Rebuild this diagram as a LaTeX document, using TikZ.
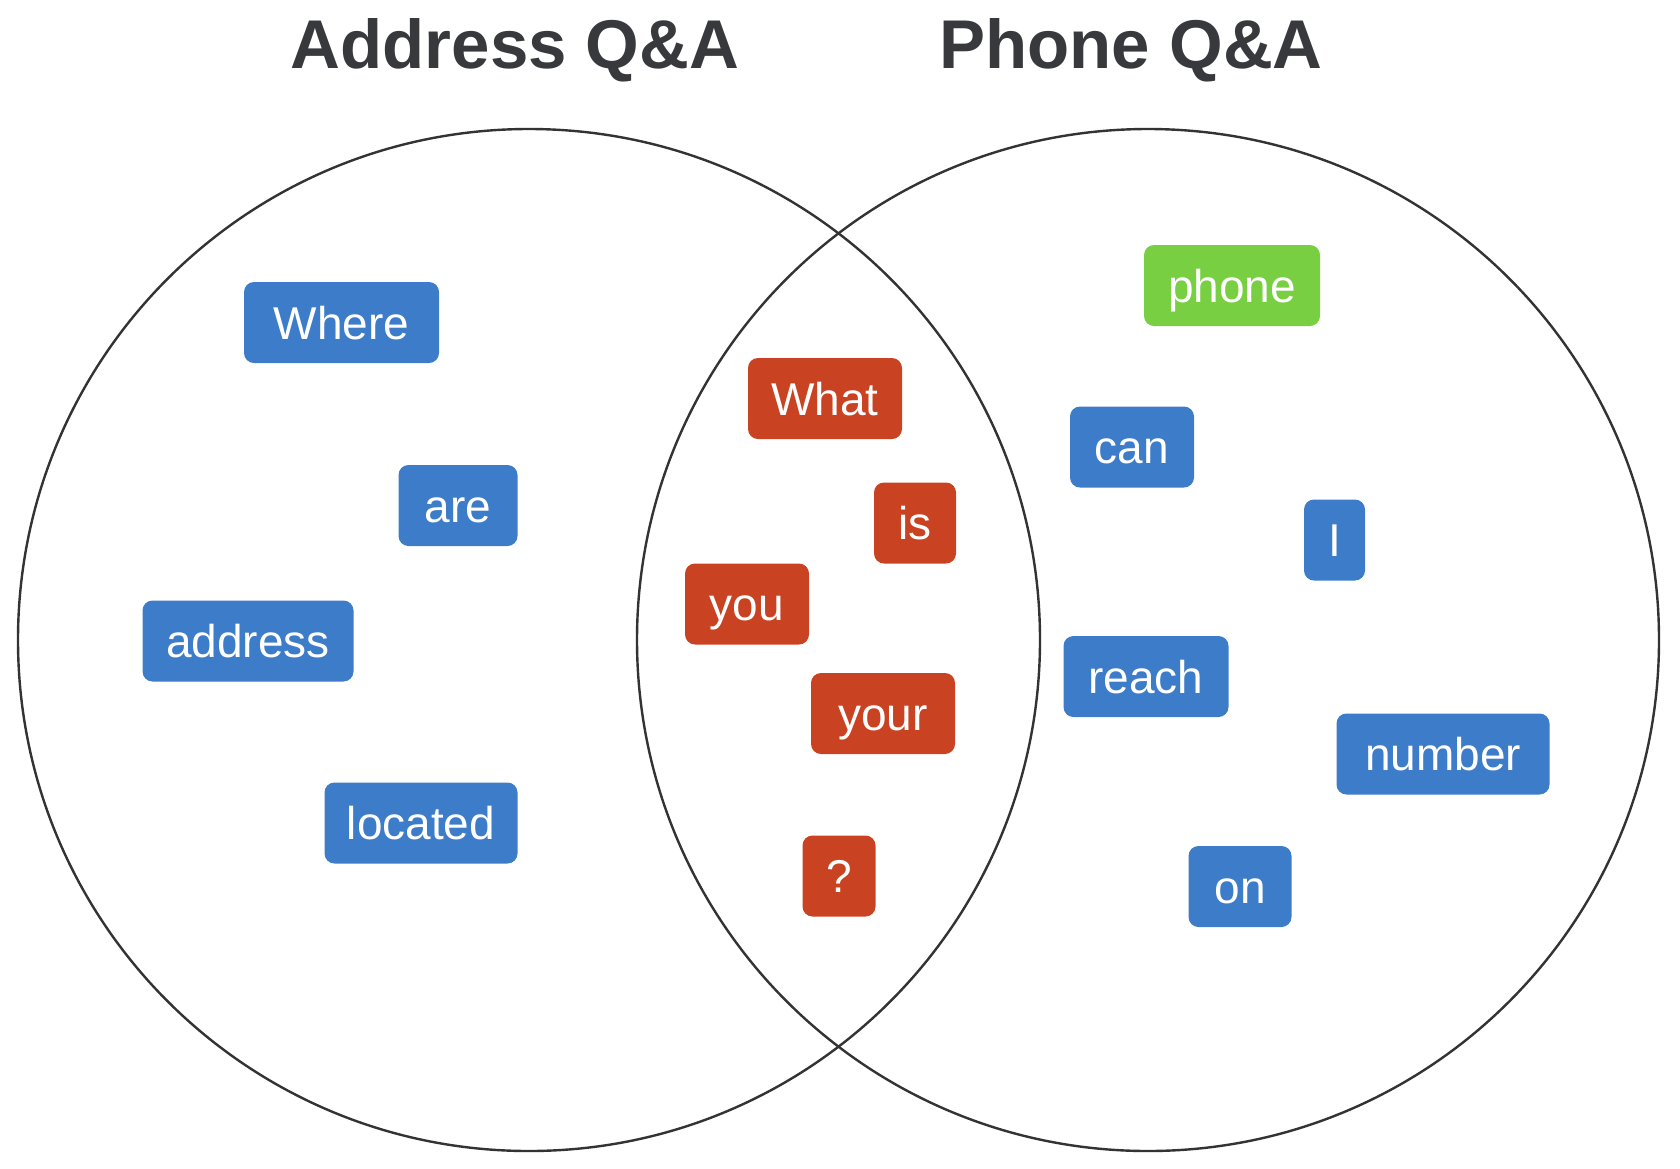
\documentclass[tikz,border=0pt]{standalone}
\usepackage{fontspec}
\setmainfont{Liberation Sans}
\definecolor{wordblue}{HTML}{3D7CC9}
\definecolor{wordred}{HTML}{C94322}
\definecolor{wordgreen}{HTML}{78CF42}
\definecolor{titlegray}{HTML}{38393D}
\begin{document}
\begin{tikzpicture}[x=0.5pt,y=-0.5pt,
    word/.style={rectangle,rounded corners=5pt,text=white,
      font=\fontsize{23}{23}\selectfont,inner xsep=8pt,inner ysep=0pt,
      minimum height=40.5pt,text height=16.5pt,text depth=0pt},
    blueword/.style={word,fill=wordblue},
    redword/.style={word,fill=wordred},
    greenword/.style={word,fill=wordgreen},
    heading/.style={anchor=base,text=titlegray,font=\fontsize{34.5}{34.5}\selectfont\bfseries},
    venn/.style={draw=black!80,line width=1.2pt}]
    \useasboundingbox (0,0) rectangle (1680,1168);

    % 标题
    \node[heading] (addrtitle) at (515,68) {Address Q\&A};
    \node[heading] (phonetitle) at (1131,68) {Phone Q\&A};

    % 两个圆
    \coordinate (addrc) at (529,640);
    \coordinate (phonec) at (1148,640);
    \draw[venn] (addrc) circle[radius=511];
    \draw[venn] (phonec) circle[radius=511];

    % 左圆的词
    \node[blueword,minimum width=97.5pt] (where) at (341.5,322.5) {Where};
    \node[blueword,minimum width=59.5pt] (are) at (458,505.5) {are};
    \node[blueword,minimum width=105.5pt] (address) at (248,641) {address};
    \node[blueword,minimum width=96.5pt] (located) at (421,823) {located};

    % 交集的词
    \node[redword,minimum width=77pt] (what) at (825,398.5) {What};
    \node[redword,minimum width=41pt] (is) at (915,523) {is};
    \node[redword,minimum width=62pt] (you) at (747,604) {you};
    \node[redword,minimum width=72pt] (your) at (883,713.5) {your};
    \node[redword,minimum width=36.5pt] (qmark) at (839,876) {?};

    % 右圆的词
    \node[greenword,minimum width=88pt] (phone) at (1232,285.5) {phone};
    \node[blueword,minimum width=62pt] (can) at (1132,447) {can};
    \node[blueword,minimum width=30.5pt] (i) at (1334.5,540) {I};
    \node[blueword,minimum width=82.5pt] (reach) at (1146,676.5) {reach};
    \node[blueword,minimum width=106.5pt] (number) at (1443,754) {number};
    \node[blueword,minimum width=51.5pt] (on) at (1240,886.5) {on};
\end{tikzpicture}
\end{document}
